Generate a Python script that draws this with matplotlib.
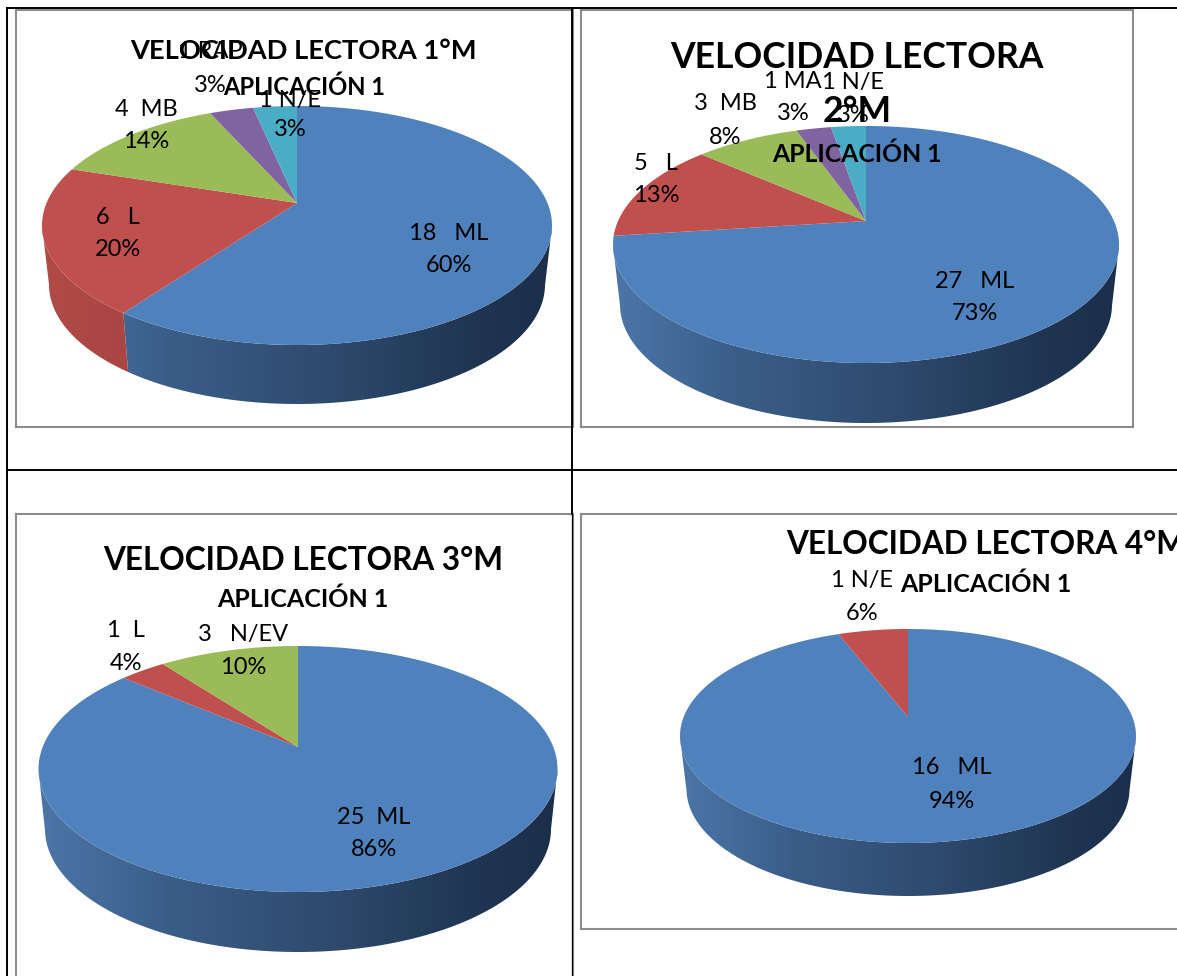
import numpy as np
import matplotlib
matplotlib.use("Agg")
import matplotlib.pyplot as plt
from matplotlib.path import Path
from matplotlib.patches import PathPatch
from matplotlib.transforms import Transform
from matplotlib.colors import LinearSegmentedColormap

W, H = 1177, 976
plt.rcParams['font.family'] = ['Lato', 'DejaVu Sans']

# ---- data ----
values_1 = [18, 6, 4, 1, 1]
labels_1 = ["18   ML", "6   L", "4  MB", "1 RAP", "1 N/E"]
pcts_1 = ["60%", "20%", "14%", "3%", "3%"]
values_2 = [27, 5, 3, 1, 1]
labels_2 = ["27   ML", "5   L", "3  MB", "1 MA", "1 N/E"]
pcts_2 = ["73%", "13%", "8%", "3%", "3%"]
values_3 = [25, 1, 3]
labels_3 = ["25  ML", "1  L", "3   N/EV"]
pcts_3 = ["86%", "4%", "10%"]
values_4 = [16, 1]
labels_4 = ["16   ML", "1 N/E"]
pcts_4 = ["94%", "6%"]

# ---- style / layout (pixels) ----
colors = ['#4F81BD', '#C0504D', '#9BBB59', '#8064A2', '#4BACC6']
wall = {
    '#4F81BD': ['#4c76a8', '#3a5d88', '#2f4b6e', '#1f3552', '#1c2f4a'],
    '#C0504D': ['#b04a47', '#a54441', '#963e3b', '#8a3835', '#803431'],
    '#9BBB59': ['#8aa84f', '#7d9847', '#6f883f', '#617737', '#556a30'],
    '#8064A2': ['#725a91', '#664f82', '#5a4673', '#4f3d65', '#443558'],
    '#4BACC6': ['#439ab1', '#3b889d', '#337689', '#2b6475', '#245564'],
}
charts = [
    dict(values=values_1, labels=labels_1, pcts=pcts_1,
         frame=(16, 10, 573, 427), cx=297, apex=203, top=106, bot=345,
         rx=255, low_rx=248, depth=59,
         pos=[(449, 232, 265), (118, 217, 249), (146, 108, 141), (210, 50, 85), (290, 100, 129)],
         title=["VELOCIDAD LECTORA 1°M"], tfs=19.6, tpos=[(303, 51)], sub=(304, 87), sfs=17.1),
    dict(values=values_2, labels=labels_2, pcts=pcts_2,
         frame=(581, 10, 1133, 427), cx=866, apex=221, top=126, bot=363,
         rx=253, low_rx=246, depth=60,
         pos=[(975, 280, 313), (656, 162, 195), (725, 103, 137), (793, 80, 113), (853, 82, 115)],
         title=["VELOCIDAD LECTORA", "2°M"], tfs=25.6, tpos=[(857, 58), (857, 111)], sub=(857, 154), sfs=17.8),
    dict(values=values_3, labels=labels_3, pcts=pcts_3,
         frame=(16, 514, 573, 1000), cx=298, apex=747, top=646, bot=892,
         rx=259.5, low_rx=253, depth=60,
         pos=[(374, 816, 848), (126, 630, 663), (243, 634, 667)],
         title=["VELOCIDAD LECTORA 3°M"], tfs=22.7, tpos=[(303, 561)], sub=(303, 599), sfs=18),
    dict(values=values_4, labels=labels_4, pcts=pcts_4,
         frame=(581, 514, 1200, 929), cx=908, apex=717, top=629, bot=843,
         rx=228, low_rx=221.5, depth=53,
         pos=[(952, 767, 800), (862, 579, 613)],
         title=["VELOCIDAD LECTORA 4°M"], tfs=22.7, tpos=[(986, 544)], sub=(986, 584), sfs=18),
]
wall_cmap_positions = [0, .25, .55, .85, 1]
LABEL_FS = 17


class Persp(Transform):
    """Tilted-disc projection of the unit pie to pixel coordinates."""
    input_dims = output_dims = 2
    is_separable = False
    has_inverse = False

    def __init__(self, cx, y0, rx, a, b):
        super().__init__()
        self.k = (b - a) / (a + b)
        self.B = a * (1 + self.k)
        self.A = rx * np.sqrt(1 - self.k ** 2)
        self.cx, self.y0 = cx, y0

    def transform_non_affine(self, xy):
        xy = np.asarray(xy, float)
        w = 1 + self.k * xy[:, 1]
        return np.c_[self.cx + self.A * xy[:, 0] / w, self.y0 - self.B * xy[:, 1] / w]

    def transform_path_non_affine(self, path):
        big = Path(path.vertices * 2000, path.codes)
        polys = big.to_polygons(closed_only=True)
        verts = np.vstack(polys) / 2000
        return Path(self.transform_non_affine(verts))


fig = plt.figure(figsize=(W / 100, H / 100), dpi=100, facecolor='white')


def add_axes_px(x0, y0, x1, y1):
    return fig.add_axes([x0 / W, 1 - y1 / H, (x1 - x0) / W, (y1 - y0) / H])


for ch in charts:
    x0, y0, x1, y1 = ch['frame']
    ax = add_axes_px(x0, y0, x1, y1)
    vals = np.array(ch['values'], float)
    slice_colors = colors[:len(vals)]
    wedges, _ = ax.pie(vals, colors=slice_colors, startangle=90, counterclock=False,
                       wedgeprops=dict(linewidth=0), radius=1)
    ax.set_aspect('auto')
    ax.set_frame_on(True)
    ax.set_xticks([]); ax.set_yticks([])
    for s in ax.spines.values():
        s.set_color('#8c8c8c'); s.set_linewidth(1.5)

    a = ch['apex'] - ch['top']; b = ch['bot'] - ch['apex']
    proj = Persp(ch['cx'], ch['apex'], ch['rx'], a, b)
    # lower rim: same tilt, slightly narrower disc
    low = Persp(ch['cx'], ch['apex'] + ch['depth'], ch['low_rx'], a, b)
    for w in wedges:
        w.set_transform(proj + ax.transData)
        w.set_zorder(3)

    # side wall from the same slice angles
    fr = np.cumsum(np.r_[0, vals]) / vals.sum()
    for i, c in enumerate(slice_colors):
        t = np.linspace(fr[i], fr[i + 1], 400) * 2 * np.pi
        unit = np.c_[np.sin(t), np.cos(t)]
        # visible part: below the widest line of the rim
        keep = unit[:, 1] <= -proj.k
        if keep.sum() < 2:
            continue
        top_rim = proj.transform_non_affine(unit[keep])
        low_rim = low.transform_non_affine(unit[keep])
        poly = np.vstack([top_rim, low_rim[::-1]])
        patch = PathPatch(Path(np.vstack([poly, poly[:1]]), closed=True), fc='none', ec='none',
                          transform=ax.transData)
        ax.add_patch(patch)
        cmap = LinearSegmentedColormap.from_list('w', list(zip(wall_cmap_positions, wall[c])))
        xl = ch['cx'] - ch['rx']; xr = ch['cx'] + ch['rx']
        im = ax.imshow(np.linspace(0, 1, 256)[None, :], cmap=cmap, aspect='auto',
                       extent=(xl, xr, ch['bot'] + ch['depth'] + 5, ch['apex'] - 5), zorder=2)
        im.set_clip_path(patch)
    ax.set_xlim(x0, x1)
    ax.set_ylim(y1, y0)

    # labels
    for lab, pct, (px, py1, py2) in zip(ch['labels'], ch['pcts'], ch['pos']):
        ax.text(px, py1 + 1, lab, ha='center', va='center', fontsize=LABEL_FS, color='black', zorder=5)
        ax.text(px, py2 + 1, pct, ha='center', va='center', fontsize=LABEL_FS, color='black', zorder=5)
    # titles
    for line, (tx, ty) in zip(ch['title'], ch['tpos']):
        ax.text(tx, ty, line, ha='center', va='center', fontsize=ch['tfs'],
                fontweight='bold', color='black', zorder=6, clip_on=False)
    ax.text(ch['sub'][0], ch['sub'][1], "APLICACIÓN 1", ha='center', va='center',
            fontsize=ch['sfs'], fontweight='bold', color='black', zorder=6)

# table rules of the surrounding document
over = fig.add_axes([0, 0, 1, 1], facecolor='none')
over.set_xlim(0, W); over.set_ylim(H, 0); over.axis('off')
over.plot([6.5, W], [8, 8], color='black', lw=1.4)
over.plot([6.5, W], [470, 470], color='black', lw=1.4)
over.plot([6.5, 6.5], [8, H], color='black', lw=1.4)
over.plot([572, 572], [8, 514], color='black', lw=1.4)
over.plot([572, 572], [514, H], color='black', lw=0.9)

fig.savefig('out.png', dpi=100)
